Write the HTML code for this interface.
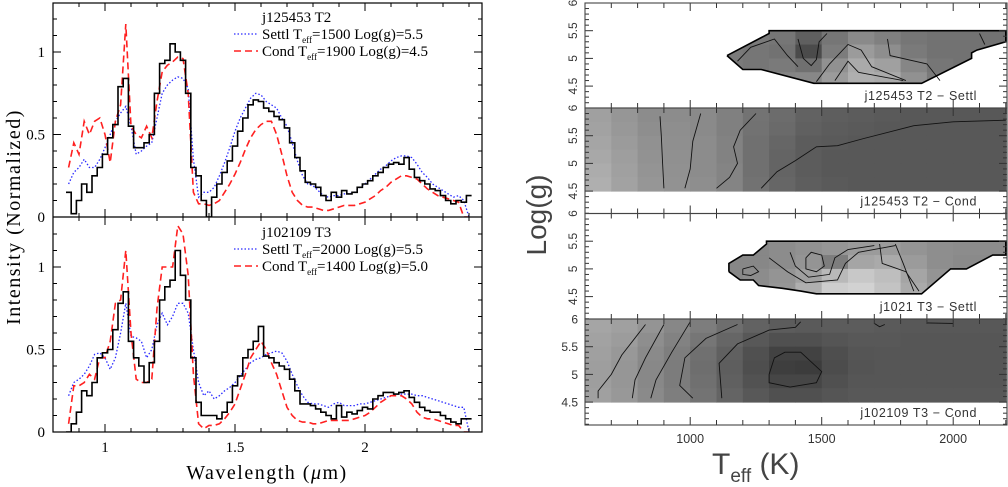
<!DOCTYPE html>
<html><head><meta charset="utf-8"><style>
html,body{margin:0;padding:0;background:#fff;}
svg{display:block;}
</style></head><body>
<svg id="fig" width="1008" height="487" viewBox="0 0 1008 487" xmlns="http://www.w3.org/2000/svg">
<defs>
<clipPath id="clipL1"><rect x="53" y="3" width="429" height="214"/></clipPath>
<clipPath id="clipL2"><rect x="53" y="217" width="429" height="215"/></clipPath>
</defs>
<g id="left"></g>
<g id="right"></g>
</svg>
<script>
const lam = [];
for (let i = 0; i <= 77; i++) lam.push(+(0.86 + i * 0.02).toFixed(2));
const obsTop = [0.15,0.02,0.1,0.2,0.15,0.25,0.3,0.38,0.48,0.56,0.79,0.84,0.55,0.42,0.42,0.45,0.5,0.75,0.93,0.95,1.05,1.0,0.95,0.75,0.3,0.25,0.1,0.0,0.12,0.2,0.27,0.34,0.43,0.52,0.6,0.68,0.71,0.70,0.66,0.64,0.61,0.59,0.54,0.45,0.36,0.28,0.21,0.2,0.18,0.13,0.1,0.15,0.12,0.16,0.14,0.15,0.18,0.2,0.22,0.25,0.27,0.3,0.32,0.33,0.32,0.36,0.29,0.24,0.22,0.2,0.17,0.16,0.13,0.1,0.08,0.1,0.09,0.13];
const settlTop = [0.2,0.27,0.3,0.35,0.3,0.3,0.35,0.42,0.5,0.58,0.63,0.67,0.55,0.38,0.4,0.43,0.45,0.6,0.75,0.8,0.83,0.85,0.84,0.78,0.35,0.12,0.15,0.15,0.18,0.25,0.33,0.42,0.52,0.6,0.66,0.72,0.75,0.74,0.7,0.68,0.66,0.6,0.55,0.45,0.34,0.25,0.2,0.19,0.16,0.13,0.12,0.13,0.13,0.14,0.14,0.15,0.18,0.2,0.23,0.26,0.29,0.31,0.34,0.36,0.37,0.37,0.36,0.32,0.27,0.24,0.2,0.18,0.16,0.14,0.12,0.13,0.1,0.0];
const condTop = [0.3,0.45,0.38,0.58,0.5,0.58,0.6,0.5,0.33,0.58,0.68,1.17,0.55,0.5,0.48,0.55,0.48,0.7,0.88,0.92,0.94,0.97,0.96,0.75,0.15,0.08,0.08,0.07,0.08,0.1,0.15,0.2,0.26,0.33,0.41,0.48,0.53,0.56,0.58,0.58,0.5,0.38,0.25,0.15,0.1,0.07,0.06,0.06,0.05,0.04,0.04,0.05,0.06,0.07,0.07,0.07,0.08,0.09,0.11,0.13,0.16,0.18,0.21,0.23,0.25,0.25,0.24,0.23,0.2,0.17,0.15,0.13,0.12,0.11,0.1,0.09,0.0,0.0];
const obsBot = [0.0,0.05,0.12,0.25,0.22,0.3,0.45,0.48,0.5,0.62,0.78,0.85,0.55,0.45,0.4,0.3,0.42,0.55,0.8,0.88,0.92,1.1,0.95,0.8,0.45,0.18,0.1,0.1,0.1,0.08,0.12,0.18,0.28,0.34,0.45,0.5,0.55,0.64,0.46,0.45,0.42,0.4,0.38,0.32,0.25,0.17,0.17,0.16,0.14,0.12,0.1,0.08,0.16,0.09,0.12,0.11,0.13,0.15,0.14,0.2,0.22,0.24,0.24,0.23,0.24,0.25,0.21,0.18,0.15,0.13,0.12,0.12,0.1,0.08,0.06,0.05,0.08,0.08];
const settlBot = [0.22,0.3,0.32,0.35,0.4,0.47,0.48,0.45,0.38,0.45,0.6,0.78,0.58,0.57,0.55,0.45,0.5,0.65,0.72,0.65,0.7,0.78,0.78,0.72,0.5,0.3,0.22,0.25,0.2,0.22,0.25,0.27,0.3,0.34,0.38,0.42,0.44,0.45,0.47,0.48,0.49,0.48,0.43,0.35,0.28,0.22,0.18,0.17,0.17,0.16,0.15,0.17,0.18,0.16,0.16,0.16,0.17,0.17,0.18,0.19,0.2,0.21,0.22,0.23,0.23,0.23,0.23,0.22,0.22,0.21,0.2,0.19,0.18,0.17,0.16,0.15,0.15,0.0];
const condBot = [0.05,0.28,0.28,0.3,0.35,0.32,0.45,0.45,0.55,0.78,0.8,1.1,0.6,0.32,0.3,0.3,0.32,0.75,1.0,1.0,1.0,1.25,1.2,0.95,0.35,0.05,0.02,0.04,0.04,0.05,0.08,0.12,0.17,0.26,0.35,0.45,0.5,0.55,0.5,0.42,0.35,0.25,0.15,0.1,0.07,0.06,0.06,0.05,0.05,0.06,0.07,0.07,0.07,0.07,0.07,0.08,0.09,0.1,0.12,0.15,0.18,0.2,0.22,0.22,0.22,0.2,0.17,0.12,0.09,0.08,0.08,0.07,0.06,0.05,0.04,0.04,0.0,0.0];
const yTickLabels = ["0","0.5","1"];
const yTickValues = [0,0.5,1];
const xTickLabels = ["1","1.5","2"];
const xTickValues = [1,1.5,2];

// right panel data
const teffCols = [600,700,800,900,1000,1100,1200,1300,1400,1500,1600,1700,1800,1900,2000,2100];
const settlCols = [1100,1200,1300,1400,1500,1600,1700,1800,1900,2000,2100];
const condRows = [5.75,5.5,5.25,5.0,4.75,4.5];
const settlRows = [5.25,5.0,4.75,4.5];
const gray1 = [
 [122,122,118,95,118,138,128,118,114,114,114],
 [122,118,114,75,124,155,142,122,114,114,114],
 [122,118,122,112,145,170,160,134,118,114,114],
 [122,122,132,135,155,175,170,145,122,118,118]];
const gray2 = [
 [160,150,140,140,138,128,115,108,98,94,92,90,88,88,88,88],
 [162,152,142,142,138,128,114,106,96,92,90,88,88,88,88,88],
 [165,155,145,143,140,130,112,102,92,90,88,88,88,88,88,88],
 [168,158,146,144,140,130,112,100,92,88,88,88,88,88,88,88],
 [172,160,148,145,140,132,112,100,92,88,88,88,88,88,88,88],
 [175,162,150,146,142,132,114,102,94,90,88,88,88,88,88,88]];
const gray3 = [
 [135,135,140,145,150,155,155,148,142,140,140],
 [135,135,140,148,125,165,170,155,142,138,138],
 [135,140,148,160,185,200,190,165,148,138,138],
 [135,140,150,175,205,210,195,170,152,142,142]];
const gray4 = [
 [165,160,148,135,125,110,98,92,90,92,92,90,88,88,88,88],
 [162,156,142,130,118,102,88,80,80,85,88,88,86,86,86,86],
 [160,152,138,126,112,96,80,66,66,78,85,86,86,86,86,86],
 [158,150,136,124,110,94,78,62,60,76,84,86,86,86,86,86],
 [158,150,136,124,112,96,82,70,70,80,86,86,86,86,86,86],
 [160,152,138,126,115,100,88,80,80,85,88,88,88,88,88,88]];
const settlBorder1 = [[1140,5.05],[1300,5.45],[1300,5.5],[2200,5.5],[2200,5.3],[2090,5.15],[2070,5.1],[2070,5.0],[1880,4.55],[1470,4.55],[1270,4.8],[1200,4.8],[1140,5.05]];
const settlBorder3 = [[1147,4.95],[1147,5.1],[1200,5.25],[1240,5.25],[1290,5.45],[1290,5.5],[2200,5.5],[2200,5.25],[2150,5.25],[2050,5.0],[1990,5.0],[1880,4.55],[1480,4.55],[1420,4.6],[1350,4.65],[1260,4.7],[1240,4.8],[1190,4.8],[1147,4.95]];
const contours1 = [
 [[1180,4.95],[1230,5.2],[1320,5.35],[1370,5.05],[1410,4.85]],
 [[1410,5.35],[1430,5.0],[1460,4.87],[1480,4.98],[1490,5.3],[1520,5.45]],
 [[1480,4.58],[1530,4.9],[1600,5.25],[1650,5.15],[1690,4.85],[1820,4.6]],
 [[1550,4.6],[1600,4.95],[1640,4.75],[1810,4.6]],
 [[1750,5.35],[1760,5.05],[1900,4.9],[1950,4.6]],
 [[2100,5.45],[2120,5.25]]];
const contours2 = [
 [[900,4.55],[895,5.0],[890,5.5],[885,5.85]],
 [[980,4.55],[1000,4.9],[1010,5.4],[1040,5.9]],
 [[1100,4.55],[1150,4.75],[1180,5.0],[1165,5.3],[1190,5.6],[1250,5.9]],
 [[1270,4.55],[1330,4.85],[1400,5.05],[1480,5.3],[1560,5.32],[1660,5.45],[1850,5.68],[2000,5.75],[2200,5.78]]];
const contours3 = [
 [[1440,5.2],[1460,5.3],[1500,5.25],[1510,5.05],[1480,4.95],[1440,5.0],[1440,5.2]],
 [[1380,5.3],[1400,5.05],[1450,4.85],[1530,4.9],[1550,5.2],[1600,5.35],[1700,5.42]],
 [[1300,5.2],[1370,4.95],[1440,4.75],[1560,4.8],[1590,5.1],[1640,5.3],[1780,5.42]],
 [[1720,5.45],[1730,5.1],[1820,4.95],[1870,4.6]],
 [[1780,5.45],[1810,5.1],[1850,4.6]],
 [[1200,5.0],[1240,5.05],[1260,4.95],[1230,4.88],[1200,4.9],[1200,5.0]]];
const contours4 = [
 [[650,4.57],[650,4.7],[700,5.0],[740,5.35],[830,5.9]],
 [[780,4.57],[790,4.9],[830,5.3],[900,5.9]],
 [[850,4.57],[870,4.9],[930,5.4],[1000,5.95]],
 [[1010,4.57],[960,4.8],[980,5.3],[1060,5.65],[1180,5.9]],
 [[1120,4.57],[1110,5.2],[1180,5.55],[1300,5.8],[1400,5.85],[1420,5.95]],
 [[1300,5.0],[1320,5.3],[1360,5.4],[1420,5.4],[1500,5.05],[1480,4.85],[1380,4.77],[1300,4.85],[1300,5.0]],
 [[1700,5.92],[1720,5.86],[1740,5.9]],
 [[1900,5.93],[2000,5.92]]];
const teffTicks = [1000,1500,2000];
const loggTicks = ["6","5.5","5","4.5"];

const NS = "http://www.w3.org/2000/svg";
function mk(tag, attrs, parent) {
  const e = document.createElementNS(NS, tag);
  for (const k in attrs) e.setAttribute(k, attrs[k]);
  parent.appendChild(e);
  return e;
}
// ---------- LEFT ----------
const L = document.getElementById('left');
const lx = v => 105 + (v - 1) * 260;
const ly0 = [217, 432];
const ly = (v, p) => ly0[p] - v * 165;

function seriesPath(arr, p) {
  return arr.map((v, i) => (i ? 'L' : 'M') + lx(lam[i]).toFixed(1) + ' ' + ly(v, p).toFixed(1)).join(' ');
}
function stepPath(arr, p) {
  const h = 0.01;
  let d = '';
  arr.forEach((v, i) => {
    const x1 = lx(lam[i] - h), x2 = lx(lam[i] + h), y = ly(v, p);
    d += (i ? 'L' : 'M') + x1.toFixed(1) + ' ' + y.toFixed(1) + ' L' + x2.toFixed(1) + ' ' + y.toFixed(1) + ' ';
  });
  return d;
}
const panels = [
  {obs: obsTop, settl: settlTop, cond: condTop, clip: 'url(#clipL1)', title: 'j125453 T2', s: '1500', sg: '5.5', c: '1900', cg: '4.5', ty: 22},
  {obs: obsBot, settl: settlBot, cond: condBot, clip: 'url(#clipL2)', title: 'j102109 T3', s: '2000', sg: '5.5', c: '1400', cg: '5.0', ty: 237}
];
panels.forEach((P, p) => {
  const g = mk('g', {'clip-path': P.clip}, L);
  
  
  const sl = mk('path', {d: seriesPath(P.settl, p), fill: 'none', stroke: '#2a2aff', 'stroke-width': 1.3, 'stroke-dasharray': '1.5 2'}, g);
  
  
  const cl = mk('path', {d: seriesPath(P.cond, p), fill: 'none', stroke: '#ff2020', 'stroke-width': 1.6, 'stroke-dasharray': '7 4'}, g);
  
  
  const ol = mk('path', {d: stepPath(P.obs, p), fill: 'none', stroke: '#000', 'stroke-width': 1.6}, g);
  
  
  const lg = mk('g', {'font-family': '"Liberation Serif", serif', 'font-size': 15, fill: '#000'}, L);
  
  
  const t = mk('text', {x: 262, y: P.ty}, lg); t.textContent = P.title;
  
  
  mk('line', {x1: 234, x2: 258, y1: P.ty + 12, y2: P.ty + 12, stroke: '#2a2aff', 'stroke-width': 1.3, 'stroke-dasharray': '1.5 2'}, lg);
  const t1 = mk('text', {x: 262, y: P.ty + 17}, lg);
  t1.innerHTML = 'Settl T<tspan font-size="9" dy="4">eff</tspan><tspan dy="-4">=' + P.s + ' Log(g)=' + P.sg + '</tspan>';
  
  
  mk('line', {x1: 234, x2: 258, y1: P.ty + 29, y2: P.ty + 29, stroke: '#ff2020', 'stroke-width': 1.6, 'stroke-dasharray': '7 4'}, lg);
  const t2 = mk('text', {x: 262, y: P.ty + 34}, lg);
  t2.innerHTML = 'Cond T<tspan font-size="9" dy="4">eff</tspan><tspan dy="-4">=' + P.c + ' Log(g)=' + P.cg + '</tspan>';
  
  
  for (let k = 0; k <= 12; k++) {
    const y = ly(k / 10, p);
    const len = k % 5 === 0 ? 8 : 4;
    mk('line', {x1: 53, x2: 53 + len, y1: y, y2: y, stroke: '#000', 'stroke-width': 1}, L);
    mk('line', {x1: 482, x2: 482 - len, y1: y, y2: y, stroke: '#000', 'stroke-width': 1}, L);
  }
  yTickValues.forEach((v, i) => {
    const tt = mk('text', {x: 45, y: ly(v, p) + 5, 'text-anchor': 'end', 'font-family': '"Liberation Serif", serif', 'font-size': 15}, L);
    tt.textContent = yTickLabels[i];
    
    
  });
});
for (let k = 8; k <= 24; k++) {
  const x = lx(k / 10);
  const len = k % 5 === 0 ? 8 : 4;
  [3, 217].forEach(y => mk('line', {x1: x, x2: x, y1: y, y2: y + len, stroke: '#000'}, L));
  [217, 432].forEach(y => mk('line', {x1: x, x2: x, y1: y, y2: y - len, stroke: '#000'}, L));
}
xTickValues.forEach((v, i) => {
  const tt = mk('text', {x: lx(v), y: 452, 'text-anchor': 'middle', 'font-family': '"Liberation Serif", serif', 'font-size': 15}, L);
  tt.textContent = xTickLabels[i];
  
  
});
const fr = mk('rect', {x: 53, y: 3, width: 429, height: 429, fill: 'none', stroke: '#000', 'stroke-width': 1.2}, L);


mk('line', {x1: 53, x2: 482, y1: 217, y2: 217, stroke: '#000', 'stroke-width': 1.2}, L);
const xt = mk('text', {x: 267, y: 479, 'text-anchor': 'middle', 'font-family': '"Liberation Serif", serif', 'font-size': 20, 'letter-spacing': 1.5}, L);
xt.innerHTML = 'Wavelength (<tspan font-style="italic">μ</tspan>m)';


const yt = mk('text', {x: 0, y: 0, 'text-anchor': 'middle', 'font-family': '"Liberation Serif", serif', 'font-size': 20, 'letter-spacing': 1.5, transform: 'translate(20,217) rotate(-90)'}, L);
yt.textContent = 'Intensity (Normalized)';



// ---------- RIGHT ----------
const R = document.getElementById('right');
const rx = t => 585 + (t - 600) * 0.263;
const tops = [3, 108, 213.5, 319];
const ry = (g, p) => tops[p] + (6 - g) * 55.4;
const rBottoms = [108, 213.5, 319, 425];
function poly(pts, p) { return pts.map((q, i) => (i ? 'L' : 'M') + rx(q[0]).toFixed(1) + ' ' + ry(q[1], p).toFixed(1)).join(' '); }
const defs = document.querySelector('defs');
const maps = [
  {gray: gray1, cols: settlCols, rows: settlRows, dr: 0.25, border: settlBorder1, cont: contours1, label: 'j125453 T2 − Settl'},
  {gray: gray2, cols: teffCols, rows: condRows, dr: 0.25, border: null, cont: contours2, label: 'j125453 T2 − Cond'},
  {gray: gray3, cols: settlCols, rows: settlRows, dr: 0.25, border: settlBorder3, cont: contours3, label: 'j1021 T3 − Settl'},
  {gray: gray4, cols: teffCols, rows: condRows, dr: 0.25, border: null, cont: contours4, label: 'j102109 T3 − Cond'}
];
maps.forEach((M, p) => {
  const g = mk('g', {}, R);
  
  
  let cg = g;
  if (M.border) {
    const cp = mk('clipPath', {id: 'cb' + p}, defs);
    mk('path', {d: poly(M.border, p) + 'Z'}, cp);
    cg = mk('g', {'clip-path': 'url(#cb' + p + ')'}, g);
  }
  M.rows.forEach((r, i) => M.cols.forEach((c, j) => {
    const v = M.gray[i][j];
    const x1 = rx(c), x2 = rx(Math.min(c + 100, 2200)), y1 = ry(r + M.dr, p), y2 = ry(r, p);
    const cell = mk('rect', {x: x1, y: y1, width: x2 - x1 + 0.5, height: y2 - y1 + 0.5, fill: `rgb(${v},${v},${v})`}, cg);
    
    
  }));
  M.cont.forEach(c => {
    const cl = mk('path', {d: poly(c, p), fill: 'none', stroke: '#111', 'stroke-width': 0.9}, g);
    
    
  });
  if (M.border) {
    const b = mk('path', {d: poly(M.border, p), fill: 'none', stroke: '#000', 'stroke-width': 1.6}, g);
    
    
  }
  const lb = mk('text', {x: 977, y: rBottoms[p] - 8, 'text-anchor': 'end', 'font-family': '"Liberation Sans", sans-serif', 'font-size': 12.5, fill: '#333', 'letter-spacing': 0.6}, R);
  lb.textContent = M.label;
  
  
  for (let t = 600; t <= 2200; t += 100) {
    const len = t % 500 === 0 ? 8 : 5;
    mk('line', {x1: rx(t), x2: rx(t), y1: tops[p], y2: tops[p] + len, stroke: '#333'}, R);
    mk('line', {x1: rx(t), x2: rx(t), y1: rBottoms[p], y2: rBottoms[p] - len, stroke: '#333'}, R);
  }
  for (let k = 41; k <= 60; k++) {
    const y = ry(k / 10, p);
    const len = k % 5 === 0 ? 8 : 4;
    mk('line', {x1: 585, x2: 585 + len, y1: y, y2: y, stroke: '#333'}, R);
    mk('line', {x1: 1007, x2: 1007 - len, y1: y, y2: y, stroke: '#333'}, R);
  }
  loggTicks.forEach(s => {
    const y = ry(parseFloat(s), p);
    let tt;
    if (p < 3) tt = mk('text', {x: 0, y: 0, 'text-anchor': 'middle', 'font-family': '"Liberation Sans", sans-serif', 'font-size': 12, fill: '#333', transform: `translate(577,${y}) rotate(-90)`}, R);
    else tt = mk('text', {x: 578, y: y + 4.5, 'text-anchor': 'end', 'font-family': '"Liberation Sans", sans-serif', 'font-size': 12, fill: '#333'}, R);
    tt.textContent = s;
    
    
  });
  const f = mk('rect', {x: 585, y: tops[p], width: 422, height: rBottoms[p] - tops[p], fill: 'none', stroke: '#444', 'stroke-width': 1.1}, R);
  
  
});
teffTicks.forEach(t => {
  const tt = mk('text', {x: rx(t), y: 443, 'text-anchor': 'middle', 'font-family': '"Liberation Sans", sans-serif', 'font-size': 12.5, fill: '#333'}, R);
  tt.textContent = String(t);
  
  
});
const rxt = mk('text', {x: 712, y: 474, 'font-family': '"Liberation Sans", sans-serif', 'font-size': 30, fill: '#444'}, R);
rxt.innerHTML = 'T<tspan font-size="19" dy="8">eff</tspan><tspan dy="-8"> (K)</tspan>';


const ryt = mk('text', {x: 0, y: 0, 'text-anchor': 'middle', 'font-family': '"Liberation Sans", sans-serif', 'font-size': 28, fill: '#444', transform: 'translate(546,215) rotate(-90)'}, R);
ryt.textContent = 'Log(g)';


</script>
</body></html>
